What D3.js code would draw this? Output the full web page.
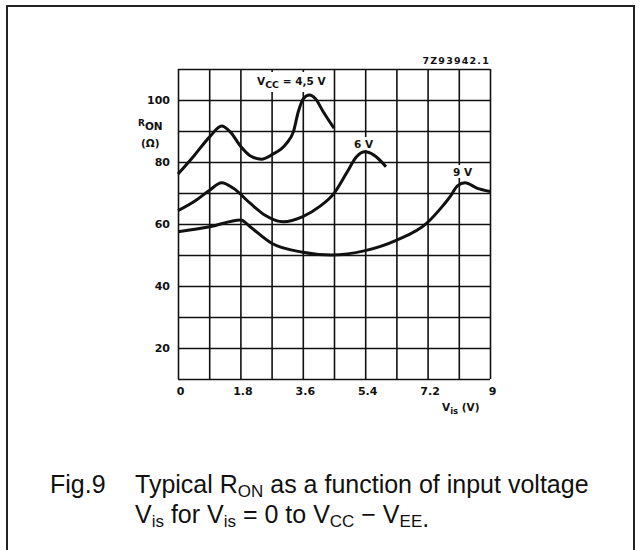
<!DOCTYPE html>
<html>
<head>
<meta charset="utf-8">
<script src="https://cdn.jsdelivr.net/npm/d3@7"></script>
<style>
  body { margin: 0; background: #fff; }
  svg { display: block; }
  .grid line { stroke: #111; stroke-width: 1.6; }
  .grid .domain { display: none; }
  .tick-label text { font-family: "DejaVu Sans", sans-serif; font-weight: bold; font-size: 11px; fill: #111; }
  .tick-label .domain, .tick-label line { display: none; }
  .lbl { font-family: "DejaVu Sans", sans-serif; font-weight: bold; fill: #111; }
  .cap { font-family: "Liberation Sans", Arial, sans-serif; font-size: 25px; fill: #111; }
</style>
</head>
<body>
<svg width="641" height="550"></svg>
<script>
'use strict';
// values
var xGrid = [0, 0.9, 1.8, 2.7, 3.6, 4.5, 5.4, 6.3, 7.2, 8.1, 9];
var yGrid = [10, 20, 30, 40, 50, 60, 70, 80, 90, 100, 110];
var xTicks = [0, 1.8, 3.6, 5.4, 7.2, 9];
var xTickLabels = ['0', '1.8', '3.6', '5.4', '7.2', '9'];
var yTicks = [20, 40, 60, 80, 100];

var vis45 = [0, 0.44, 0.92, 1.26, 1.5, 1.81, 2.08, 2.41, 2.7, 3.13, 3.33, 3.47, 3.62, 3.79, 3.96, 4.19, 4.5];
var ron45 = [76.1, 81.7, 88.2, 91.6, 89.8, 85, 82, 80.9, 82.3, 86, 89.8, 96.2, 100.5, 101.6, 100.5, 96.2, 90.9];
var vis6 = [0, 0.5, 0.92, 1.26, 1.6, 2.08, 2.5, 3.04, 3.6, 4.08, 4.5, 4.86, 5.15, 5.4, 5.64, 6.0];
var ron6 = [64.3, 67.5, 71, 73.3, 71.5, 66.7, 62.9, 60.7, 62.4, 65.6, 69.9, 76.4, 81.7, 83.3, 82.3, 78.5];
var vis9 = [0, 0.92, 1.81, 2.08, 2.7, 3.6, 4.42, 5.4, 6.31, 7.17, 7.65, 7.85, 8.06, 8.28, 8.62, 9];
var ron9 = [57.5, 59.1, 61.3, 59.1, 53.8, 50.9, 50, 51.4, 54.8, 60.2, 66, 68.8, 72.3, 73.3, 71.6, 70.5];

var svg = d3.select('svg');

// outer frame (bottom edge runs off the page)
svg.append('rect')
  .attr('x', 7).attr('y', 6)
  .attr('width', 627).attr('height', 570)
  .attr('fill', 'none')
  .attr('stroke', '#222')
  .attr('stroke-width', 2);

var xScale = d3.scaleLinear().domain([0, 9]).range([178, 490]);
var yScale = d3.scaleLinear().domain([10, 110]).range([379, 69]);

// grid
svg.append('g')
  .attr('class', 'grid')
  .attr('transform', 'translate(0,' + yScale(10) + ')')
  .call(d3.axisBottom(xScale).tickValues(xGrid).tickSize(-(yScale(10) - yScale(110))).tickFormat(''));
svg.append('g')
  .attr('class', 'grid')
  .attr('transform', 'translate(' + xScale(0) + ',0)')
  .call(d3.axisLeft(yScale).tickValues(yGrid).tickSize(-(xScale(9) - xScale(0))).tickFormat(''));

// tick labels
svg.append('g')
  .attr('class', 'tick-label')
  .attr('transform', 'translate(2,' + (yScale(10) + 5) + ')')
  .call(d3.axisBottom(xScale).tickValues(xTicks).tickSize(0)
    .tickFormat(function(d, i) { return xTickLabels[i]; }));
svg.append('g')
  .attr('class', 'tick-label')
  .attr('transform', 'translate(' + (xScale(0) - 8) + ',0)')
  .call(d3.axisLeft(yScale).tickValues(yTicks).tickSize(0).tickPadding(0));

// label backgrounds break the grid
svg.append('rect').attr('x', 242).attr('y', 72).attr('width', 90).attr('height', 20).attr('fill', '#fff');
svg.append('rect').attr('x', 352).attr('y', 137).attr('width', 21).attr('height', 13).attr('fill', '#fff');
svg.append('rect').attr('x', 451).attr('y', 165).attr('width', 22).attr('height', 13).attr('fill', '#fff');

// curves
var line = d3.line()
  .x(function(d) { return xScale(d[0]); })
  .y(function(d) { return yScale(d[1]); })
  .curve(d3.curveMonotoneX);

[[vis45, ron45], [vis6, ron6], [vis9, ron9]].forEach(function(s) {
  svg.append('path')
    .datum(d3.zip(s[0], s[1]))
    .attr('d', line)
    .attr('fill', 'none')
    .attr('stroke', '#111')
    .attr('stroke-width', 3)
    .attr('stroke-linejoin', 'round');
});

// curve labels
var t45 = svg.append('text').attr('class', 'lbl').attr('x', 257).attr('y', 85).style('font-size', '10.5px');
t45.append('tspan').text('V');
t45.append('tspan').attr('dy', 3).style('font-size', '9.5px').text('CC');
t45.append('tspan').attr('dy', -3).text(' = 4,5 V');

svg.append('text').attr('class', 'lbl').attr('x', 354).attr('y', 148).style('font-size', '10.5px').text('6 V');
svg.append('text').attr('class', 'lbl').attr('x', 453).attr('y', 176).style('font-size', '10.5px').text('9 V');

// axis titles
var ron = svg.append('text').attr('class', 'lbl').attr('x', 138).attr('y', 126).style('font-size', '9px');
ron.append('tspan').text('R');
ron.append('tspan').attr('dy', 4).style('font-size', '10.5px').text('ON');
svg.append('text').attr('class', 'lbl').attr('x', 141).attr('y', 147).style('font-size', '10.5px').text('(Ω)');

var vis = svg.append('text').attr('class', 'lbl').attr('x', 442).attr('y', 411).style('font-size', '10.5px');
vis.append('tspan').text('V');
vis.append('tspan').attr('dy', 3).style('font-size', '8.5px').text('is');
vis.append('tspan').attr('dy', -3).text(' (V)');

svg.append('text').attr('class', 'lbl')
  .attr('x', 490).attr('y', 64)
  .attr('text-anchor', 'end')
  .style('font-size', '9.5px')
  .style('letter-spacing', '1.2px')
  .text('7Z93942.1');

// caption
svg.append('text').attr('class', 'cap').attr('x', 50).attr('y', 493).text('Fig.9');
var c1 = svg.append('text').attr('class', 'cap').attr('x', 135).attr('y', 493);
c1.append('tspan').text('Typical R');
c1.append('tspan').attr('dy', 4).style('font-size', '17px').text('ON');
c1.append('tspan').attr('dy', -4).text(' as a function of input voltage');
var c2 = svg.append('text').attr('class', 'cap').attr('x', 135).attr('y', 523);
c2.append('tspan').text('V');
c2.append('tspan').attr('dy', 4).style('font-size', '17px').text('is');
c2.append('tspan').attr('dy', -4).text(' for V');
c2.append('tspan').attr('dy', 4).style('font-size', '17px').text('is');
c2.append('tspan').attr('dy', -4).text(' = 0 to V');
c2.append('tspan').attr('dy', 4).style('font-size', '17px').text('CC');
c2.append('tspan').attr('dy', -4).text(' \u2212 V');
c2.append('tspan').attr('dy', 4).style('font-size', '17px').text('EE');
c2.append('tspan').text('.');
</script>
</body>
</html>
